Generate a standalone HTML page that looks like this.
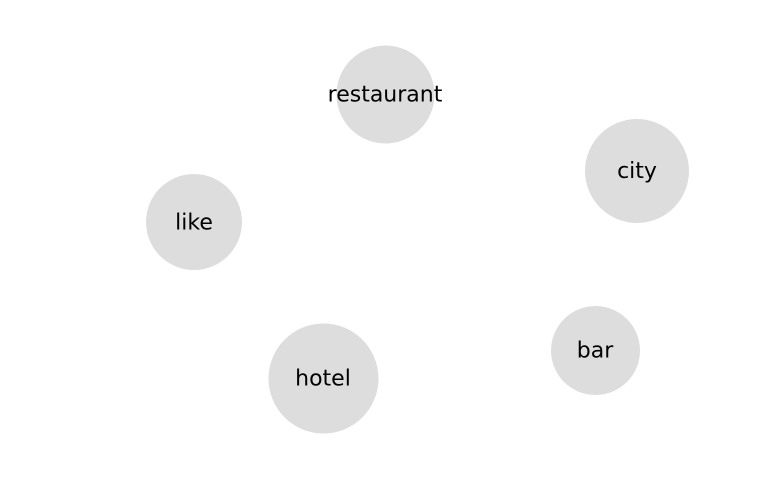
<!DOCTYPE html>
<html><head><style>html,body{margin:0;padding:0;background:#fff;width:768px;height:500px;overflow:hidden}</style></head>
<body>
<svg width="768" height="500" xmlns="http://www.w3.org/2000/svg" font-family="DejaVu Sans, sans-serif" font-size="22" text-anchor="middle">
<g fill="#dddddd">
<circle cx="385.5" cy="94.5" r="49"/>
<circle cx="637" cy="171" r="52"/>
<circle cx="194" cy="222" r="48"/>
<circle cx="323.5" cy="378.5" r="55"/>
<circle cx="595.5" cy="350.5" r="44.5"/>
</g>
<g fill="#000">
<text x="385" y="101.5">restaurant</text>
<text x="637" y="178">city</text>
<text x="194" y="229.5">like</text>
<text x="323" y="385.5">hotel</text>
<text x="595" y="357.5">bar</text>
</g>
</svg>
</body></html>
